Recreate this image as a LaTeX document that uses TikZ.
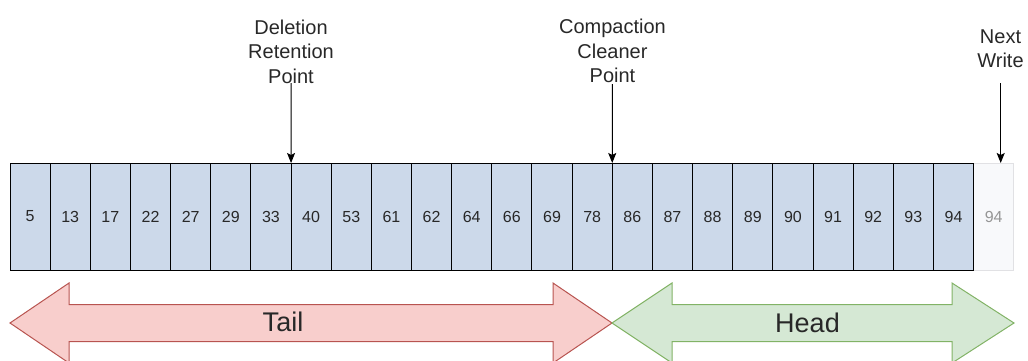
\documentclass[tikz,border=0pt]{standalone}
\usepackage{fontspec}
\setmainfont{Liberation Sans}
\usetikzlibrary{arrows.meta}
\definecolor{cellblue}{RGB}{204,217,234}
\definecolor{tailfill}{HTML}{F8CECC}
\definecolor{tailline}{HTML}{B85450}
\definecolor{headfill}{HTML}{D5E8D4}
\definecolor{headline}{HTML}{82B366}
\definecolor{txt}{RGB}{40,40,40}
\definecolor{ghostline}{RGB}{225,225,228}
\definecolor{ghostfill}{RGB}{248,249,251}
\definecolor{ghosttext}{RGB}{150,150,150}
\begin{document}
\begin{tikzpicture}[x=1pt,y=-1pt,
  cellbox/.style={draw=black, fill=cellblue, line width=1pt, minimum width=40.15pt,
    minimum height=107pt, inner sep=0pt, outer sep=0pt,
    font=\fontsize{16}{19}\selectfont, text=txt},
  ghostbox/.style={cellbox, draw=ghostline, fill=ghostfill, text=ghosttext},
  lbl/.style={align=center, inner sep=0pt, font=\fontsize{20}{24.5}\selectfont, text=txt},
  pointer/.style={-{Stealth[length=10pt,width=8pt,inset=2pt]}, line width=1pt, black},
  tailarrow/.style={draw=tailline, fill=tailfill, line width=1pt, line join=miter},
  headarrow/.style={draw=headline, fill=headfill, line width=1pt, line join=miter},
  bigtext/.style={inner sep=0pt, font=\fontsize{27}{32}\selectfont, text=txt}
]
\useasboundingbox (0,0) rectangle (1028,360);
\clip (0,0) rectangle (1028,360);

% next-write ghost cell
\node[ghostbox] (g) at ({10+24.5*40.15},216.5) {94};

% log cells
\foreach \v [count=\i] in {5,13,17,22,27,29,33,40,53,61,62,64,66,69,78,86,87,88,89,90,91,92,93,94}
  \node[cellbox] (c\i) at ({10+(\i-0.5)*40.15},216.5) {\v};

% pointer labels
\node[lbl] (del) at (291,51.5) {Deletion\\Retention\\Point};
\coordinate (delS) at (291,83);
\draw[pointer] (delS) -- (c7.north east);

\node[lbl] (cmp) at (612.5,51) {Compaction\\Cleaner\\Point};
\coordinate (cmpS) at (612.25,84);
\draw[pointer] (cmpS) -- (c15.north east);

\node[lbl] (nw) at (1000.5,48.5) {Next\\Write};
\coordinate (nwS) at (1000.7,83);
\coordinate (nwE) at (1000.7,163);
\draw[pointer] (nwS) -- (nwE);

% tail / head double arrows
\draw[tailarrow] (10,323) -- (69,283) -- (69,304.5) -- (553,304.5) -- (553,283) -- (612,323)
  -- (553,363) -- (553,341.5) -- (69,341.5) -- (69,363) -- cycle;
\node[bigtext] (tail) at (283,321.5) {Tail};

\draw[headarrow] (612,323) -- (672,283) -- (672,304.5) -- (952,304.5) -- (952,283) -- (1014,323)
  -- (952,363) -- (952,341.5) -- (672,341.5) -- (672,363) -- cycle;
\node[bigtext] (head) at (807.5,322.5) {Head};
\end{tikzpicture}
\end{document}
